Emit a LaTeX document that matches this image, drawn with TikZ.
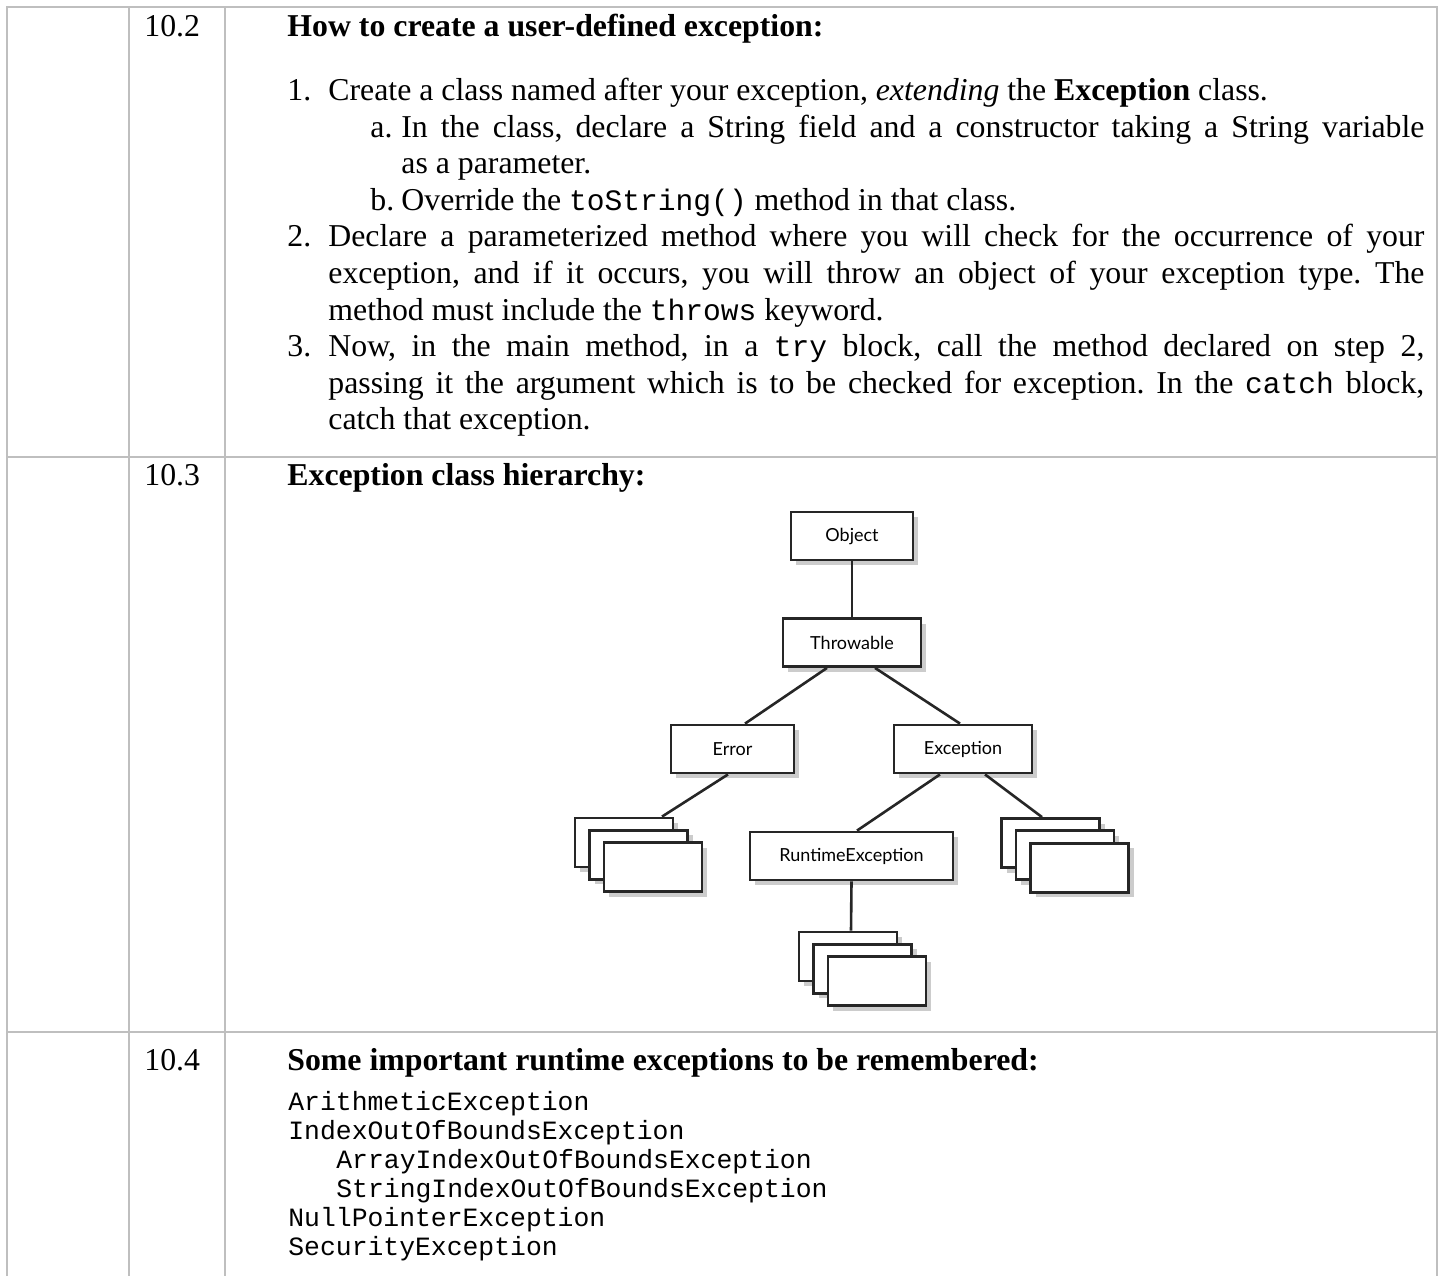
\documentclass[tikz,border=0pt]{standalone}
\usepackage{fontspec}
\setmainfont{Liberation Serif}
\setmonofont{Liberation Mono}
\newfontfamily\boxfont{Lato}
\usetikzlibrary{shadows}
\frenchspacing

\tikzset{
  grid/.style={draw=black!25, line width=1pt},
  txt/.style={anchor=base west, inner sep=0pt, font=\fontsize{15.9}{18}\selectfont},
  head/.style={anchor=base west, inner sep=0pt, font=\bfseries\fontsize{15.9}{18}\selectfont},
  code/.style={anchor=base west, inner sep=0pt, font=\ttfamily\fontsize{13.2}{15}\selectfont},
  cls/.style={draw=black!85, line width=1.4pt, fill=white, inner sep=0pt,
    minimum height=24pt, font=\boxfont\fontsize{9}{10}\selectfont,
    drop shadow={shadow xshift=2.5pt, shadow yshift=-2.5pt, fill=black!20, opacity=1}},
  sub/.style={cls, minimum width=49pt, minimum height=24.5pt},
  link/.style={draw=black!85, line width=1.3pt},
}
\newcommand{\jline}[2]{\makebox[#1][s]{#2}}
\newcommand{\kw}[1]{{\ttfamily\fontsize{14.8}{17}\selectfont #1}}

\begin{document}
\begin{tikzpicture}[x=0.5pt, y=-0.5pt]
  \useasboundingbox (0,0) rectangle (1444,1276);

  % table
  \draw[grid] (7,1276) -- (7,7) -- (1437,7) -- (1437,1276);
  \draw[grid] (129,7) -- (129,1276);
  \draw[grid] (225,7) -- (225,1276);
  \draw[grid] (7,457) -- (1437,457);
  \draw[grid] (7,1032) -- (1437,1032);

  % 10.2
  \node (n102) at (144,36) [txt] {10.2};
  \node (h102) at (287,36) [head] {How to create a user-defined exception:};
  \node (i1n) at (287,100) [txt] {1.};
  \node (i1) at (328,100) [txt] {Create a class named after your exception, \emph{extending} the \textbf{Exception} class.};
  \node (ian) at (370,137) [txt] {a.};
  \node (ia) at (401,137) [txt] {\jline{511.5pt}{In the class, declare a String field and a constructor taking a String variable}};
  \node (ia2) at (401,173) [txt] {as a parameter.};
  \node (ibn) at (370,210) [txt] {b.};
  \node (ib) at (401,210) [txt] {Override the \kw{toString()} method in that class.};
  \node (i2n) at (287,246) [txt] {2.};
  \node (i2) at (328,246) [txt] {\jline{548pt}{Declare a parameterized method where you will check for the occurrence of your}};
  \node (i2b) at (328,283) [txt] {\jline{548pt}{exception, and if it occurs, you will throw an object of your exception type. The}};
  \node (i2c) at (328,320) [txt] {method must include the \kw{throws} keyword.};
  \node (i3n) at (287,356) [txt] {3.};
  \node (i3) at (328,356) [txt] {\jline{548pt}{Now, in the main method, in a \kw{try} block, call the method declared on step 2,}};
  \node (i3b) at (328,393) [txt] {\jline{548pt}{passing it the argument which is to be checked for exception. In the \kw{catch} block,}};
  \node (i3c) at (328,429) [txt] {catch that exception.};

  % 10.3
  \node (n103) at (144,485) [txt] {10.3};
  \node (h103) at (287,485) [head] {Exception class hierarchy:};

  \node (obj) at (852,536) [cls, minimum width=61pt] {Object};
  \node (thr) at (852,642.5) [cls, minimum width=69pt] {Throwable};
  \node (err) at (732.5,749) [cls, minimum width=61.5pt] {Error};
  \node (exc) at (963,749) [cls, minimum width=69pt] {Exception};
  \node (rte) at (851.5,856) [cls, minimum width=101.5pt] {RuntimeException};

  \node (e1) at (624,842.5) [sub] {};
  \node (e2) at (638.5,854.8) [sub] {};
  \node (e3) at (653,867) [sub] {};
  \node (x1) at (1050.5,843) [sub] {};
  \node (x2) at (1065,855.3) [sub] {};
  \node (x3) at (1079.5,867.6) [sub] {};
  \node (r1) at (848,956.5) [sub] {};
  \node (r2) at (862.5,968.8) [sub] {};
  \node (r3) at (877,981) [sub] {};

  \draw[link] (obj) -- (thr);
  \draw[link] ([xshift=-12.5pt]thr.south) -- ([xshift=6.25pt]err.north);
  \draw[link] ([xshift=11.5pt]thr.south) -- ([xshift=-1.5pt]exc.north);
  \draw[link] ([xshift=-2.25pt]err.south) -- ([xshift=19pt]e1.north);
  \draw[link] ([xshift=-11.5pt]exc.south) -- ([xshift=2.75pt]rte.north);
  \draw[link] ([xshift=11pt]exc.south) -- ([xshift=-4.25pt]x1.north);
  \draw[link] (rte.south) -- ([xshift=1.5pt]r1.north);

  % 10.4
  \node (n104) at (144,1070) [txt] {10.4};
  \node (h104) at (287,1070) [head] {Some important runtime exceptions to be remembered:};
  \node (c1) at (288,1110) [code] {ArithmeticException};
  \node (c2) at (288,1139) [code] {IndexOutOfBoundsException};
  \node (c3) at (336,1168) [code] {ArrayIndexOutOfBoundsException};
  \node (c4) at (336,1197) [code] {StringIndexOutOfBoundsException};
  \node (c5) at (288,1226) [code] {NullPointerException};
  \node (c6) at (288,1255) [code] {SecurityException};
\end{tikzpicture}
\end{document}
